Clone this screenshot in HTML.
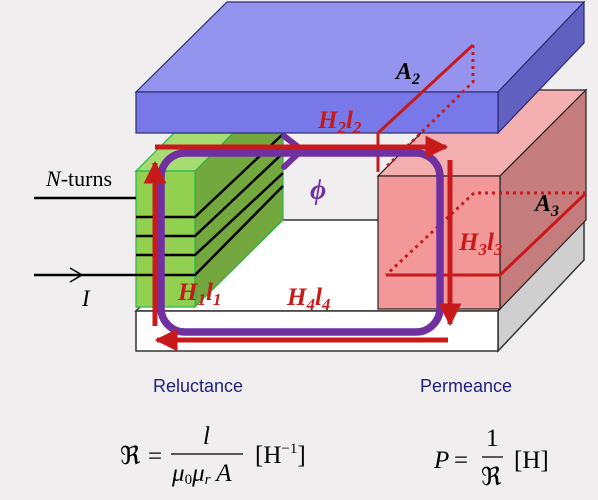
<!DOCTYPE html>
<html><head><meta charset="utf-8"><style>
html,body{margin:0;padding:0;background:#f0eeef;}
svg{display:block;font-family:"Liberation Serif",serif;}
</style></head><body>
<svg width="598" height="500" viewBox="0 0 598 500">
<rect width="598" height="500" fill="#f0eeef"/>
<defs>
<marker id="ah" viewBox="0 0 10 10" refX="9" refY="5" markerWidth="4.6" markerHeight="4.6" orient="auto"><path d="M0,0L10,5L0,10z" fill="#c8191b"/></marker>
</defs>
<g stroke="#333" stroke-width="1.5">
<polygon points="136,311 498,311 584,220 222,220" fill="#ffffff"/>
<polygon points="498,311 584,220 584,260 498,351" fill="#cfcfcf"/>
<rect x="136" y="311" width="362" height="40" fill="#ffffff"/>
</g>
<g stroke="#222" stroke-width="1.2">
<polygon points="378,176 500,176 586,90 464,90" fill="#f4b0b0"/>
<polygon points="500,176 586,90 586,220 500,309" fill="#c47c7c"/>
<rect x="378" y="176" width="122" height="133" fill="#f29898"/>
</g>
<g stroke="#2bb24c" stroke-width="1.2">
<polygon points="195,171 233,133 283,133 283,220 195,307" fill="#72a83e"/>
<polygon points="136,171 195,171 233,133 174,133" fill="#a6dc72"/>
<rect x="136" y="171" width="59" height="136" fill="#92d050"/>
</g>
<g stroke="#000" stroke-width="2.5" fill="none">
<polyline points="136,217 195,217 283,134"/>
<polyline points="136,236 195,236 283,153"/>
<polyline points="136,255 195,255 283,173"/>
<polyline points="34,275 195,275 283,186"/>
<line x1="34" y1="198" x2="136" y2="198"/>
<polyline points="70,268 82,275 70,282" stroke-width="1.5"/>
</g>
<g stroke="#2a2a70" stroke-width="1.2">
<polygon points="227,2 584,2 498,92 136,92" fill="#9494ee"/>
<polygon points="498,92 584,2 584,43 498,133" fill="#6060c0"/>
<rect x="136" y="92" width="362" height="41" fill="#7878e8"/>
</g>
<g stroke="#c8191b" stroke-width="3" fill="none">
<polyline points="378,172 378,133 473,45"/>
<polyline points="473,45 473,82 385,168" stroke-dasharray="3,4"/>
</g>
<g stroke="#c8191b" stroke-width="3" fill="none">
<polyline points="386,275 500,275 586,193"/>
<polyline points="586,193 474,193 386,275" stroke-dasharray="3,4"/>
</g>
<rect x="161" y="153" width="279" height="179" rx="24" fill="none" stroke="#7030a0" stroke-width="7.5"/>
<polyline points="284,136 302,150 284,167" fill="none" stroke="#7030a0" stroke-width="6" stroke-linecap="round"/>
<g stroke="#c8191b" stroke-width="5" fill="none">
<line x1="155" y1="326" x2="155" y2="163" marker-end="url(#ah)"/>
<line x1="155" y1="147" x2="446" y2="147" marker-end="url(#ah)"/>
<line x1="450" y1="160" x2="450" y2="324" marker-end="url(#ah)"/>
<line x1="448" y1="340" x2="157" y2="340" marker-end="url(#ah)"/>
</g>
<g font-style="italic" font-weight="bold" fill="#c8191b" font-size="25">
<text x="318" y="128">H<tspan font-size="17" dy="5">2</tspan><tspan dy="-5">l</tspan><tspan font-size="17" dy="5">2</tspan></text>
<text x="459" y="250">H<tspan font-size="17" dy="5">3</tspan><tspan dy="-5">l</tspan><tspan font-size="17" dy="5">3</tspan></text>
<text x="178" y="300">H<tspan font-size="17" dy="5">1</tspan><tspan dy="-5">l</tspan><tspan font-size="17" dy="5">1</tspan></text>
<text x="287" y="305">H<tspan font-size="17" dy="5">4</tspan><tspan dy="-5">l</tspan><tspan font-size="17" dy="5">4</tspan></text>
</g>
<text x="310" y="199" font-size="28" font-style="italic" font-weight="bold" fill="#7030a0">ϕ</text>
<text x="396" y="79" font-size="24" font-style="italic" font-weight="bold" fill="#000">A<tspan font-size="16" dy="5">2</tspan></text>
<text x="535" y="211" font-size="24" font-style="italic" font-weight="bold" fill="#000">A<tspan font-size="16" dy="5">3</tspan></text>
<text x="46" y="186" font-size="22" fill="#000"><tspan font-style="italic">N</tspan>-turns</text>
<text x="82" y="306" font-size="23" font-style="italic" fill="#000">I</text>
<text x="198" y="392" font-family="Liberation Sans, sans-serif" font-size="18" fill="#202080" text-anchor="middle">Reluctance</text>
<text x="466" y="392" font-family="Liberation Sans, sans-serif" font-size="18" fill="#202080" text-anchor="middle">Permeance</text>
<g fill="#000" font-size="25">
<text x="120" y="464">ℜ</text>
<text x="148" y="464">=</text>
<line x1="171" y1="454" x2="243" y2="454" stroke="#000" stroke-width="1.3"/>
<text x="203" y="444" font-style="italic">l</text>
<text x="172" y="481" font-style="italic">μ<tspan font-style="normal" font-size="15" dy="3">0</tspan><tspan dy="-3">μ</tspan><tspan font-size="15" dy="3">r</tspan><tspan dy="-3"> A</tspan></text>
<text x="255" y="463">[H<tspan font-size="15" dy="-10">−1</tspan><tspan dy="10">]</tspan></text>
</g>
<g fill="#000" font-size="25">
<text x="434" y="468" font-style="italic">P</text>
<text x="454" y="468">=</text>
<text x="486" y="446">1</text>
<line x1="482" y1="457" x2="503" y2="457" stroke="#000" stroke-width="1.3"/>
<text x="481" y="485">ℜ</text>
<text x="514" y="468">[H]</text>
</g>
</svg>
</body></html>
